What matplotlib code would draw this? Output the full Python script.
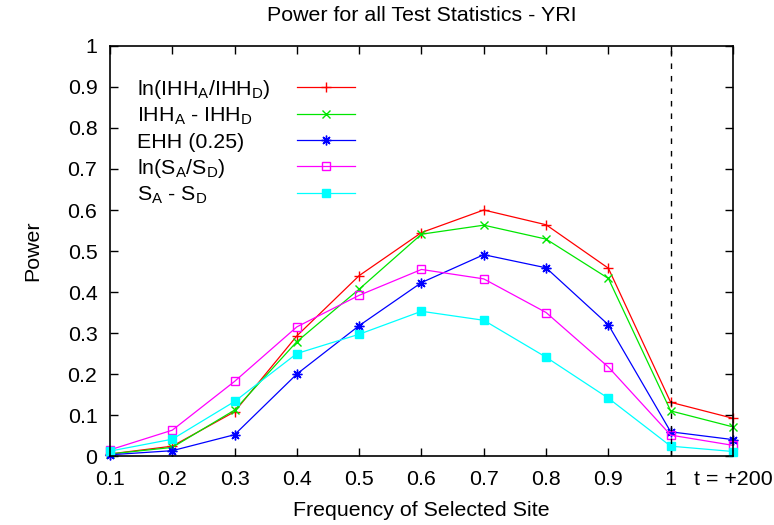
import matplotlib
matplotlib.use("Agg")
import matplotlib.pyplot as plt
import matplotlib.transforms as mtransforms
import numpy as np

plt.rcParams['font.family'] = ['Liberation Sans', 'DejaVu Sans']
plt.rcParams['mathtext.default'] = 'regular'

categories = ["0.1", "0.2", "0.3", "0.4", "0.5", "0.6", "0.7", "0.8", "0.9", "1", "t = +200"]

ln_ihh = [0.005, 0.024, 0.108, 0.293, 0.440, 0.545, 0.600, 0.564, 0.458, 0.131, 0.092]
ihh_diff = [0.005, 0.021, 0.112, 0.279, 0.407, 0.541, 0.563, 0.529, 0.433, 0.110, 0.071]
ehh = [0.003, 0.013, 0.052, 0.200, 0.318, 0.423, 0.491, 0.459, 0.320, 0.059, 0.040]
ln_s = [0.015, 0.063, 0.182, 0.315, 0.392, 0.455, 0.432, 0.350, 0.217, 0.051, 0.026]
s_diff = [0.012, 0.041, 0.133, 0.250, 0.297, 0.353, 0.331, 0.241, 0.141, 0.024, 0.011]

series_labels = [r"ln(IHH$_{A}$/IHH$_{D}$)", r"IHH$_{A}$ - IHH$_{D}$", "EHH (0.25)",
                 r"ln(S$_{A}$/S$_{D}$)", r"S$_{A}$ - S$_{D}$"]
y_ticks = [0, 0.1, 0.2, 0.3, 0.4, 0.5, 0.6, 0.7, 0.8, 0.9, 1]
y_tick_labels = ["0", "0.1", "0.2", "0.3", "0.4", "0.5", "0.6", "0.7", "0.8", "0.9", "1"]

FS = 15.4
DPI = 100

fig = plt.figure(figsize=(7.74, 5.25), dpi=DPI)
ax = fig.add_axes([0.1421, 0.1314, 0.947 - 0.1421, 0.9124 - 0.1314])

x = np.arange(len(categories))
styles = [
    dict(color="#ff0000", marker="+", ms=7, mew=1.0),
    dict(color="#00e600", marker="x", ms=6, mew=1.0),
    dict(color="#0000ff", marker=(8, 2, 0), ms=7, mew=1.0),
    dict(color="#ff00ff", marker="s", ms=5.2, mew=1.0, mfc="none"),
    dict(color="#00ffff", marker="s", ms=5.2, mew=1.0),
]
lines = []
for vals, st in zip([ln_ihh, ihh_diff, ehh, ln_s, s_diff], styles):
    ln, = ax.plot(x, vals, lw=0.9, clip_on=False, **st)
    lines.append(ln)

ax.axvline(9, color="black", lw=1.0, ls=(0, (4, 5)))

ax.set_xlim(0, len(categories) - 1)
ax.set_ylim(0, 1)
ax.set_xticks(x)
ax.set_xticklabels(categories)
ax.set_yticks(y_ticks)
ax.set_yticklabels(y_tick_labels)
ax.tick_params(direction="in", length=6, width=1, labelsize=FS, top=True, right=True)
ax.tick_params(axis="x", pad=10)
ax.tick_params(axis="y", pad=9)
for sp in ax.spines.values():
    sp.set_linewidth(1.2)

ax.set_title("Power for all Test Statistics - YRI", fontsize=FS, pad=18)
ax.set_xlabel("Frequency of Selected Site", fontsize=FS, labelpad=9)
ax.set_ylabel("Power", fontsize=FS, labelpad=18)

# legend: samples only (right column), labels drawn left-aligned next to them
leg = ax.legend(lines, [""] * len(lines), loc="upper left", bbox_to_anchor=(0.300, 0.918),
                frameon=False, fontsize=FS, markerfirst=False, handlelength=2.7,
                handletextpad=0, labelspacing=0.345, borderaxespad=0, borderpad=0)
fig.canvas.draw()
renderer = fig.canvas.get_renderer()
trans = mtransforms.blended_transform_factory(ax.transAxes, mtransforms.IdentityTransform())
cap_half = 0.36 * FS * DPI / 72.0
for h, lab in zip(leg.legend_handles, series_labels):
    bb = h.get_window_extent(renderer)
    yc = 0.5 * (bb.y0 + bb.y1)
    ax.text(0.043, yc - cap_half, lab, transform=trans, fontsize=FS, ha="left", va="baseline")

fig.savefig("out.png", dpi=DPI)
